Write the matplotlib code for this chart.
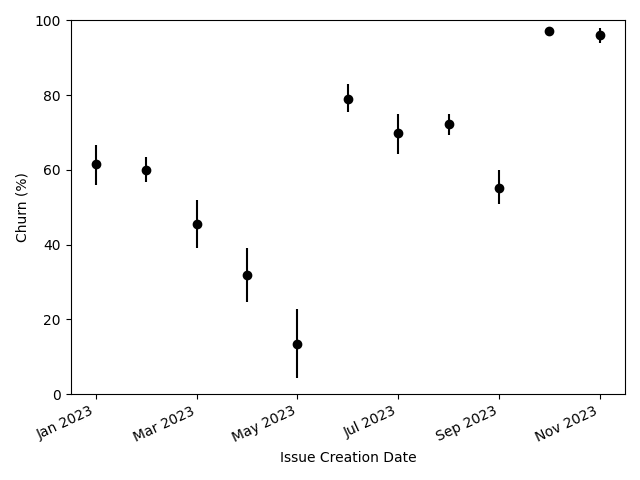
import matplotlib
matplotlib.use("Agg")
import matplotlib.pyplot as plt
import numpy as np

months = ["Jan 2023", "Feb 2023", "Mar 2023", "Apr 2023", "May 2023", "Jun 2023",
          "Jul 2023", "Aug 2023", "Sep 2023", "Oct 2023", "Nov 2023"]
churn = [61.5, 60.0, 45.5, 31.8, 13.4, 79.1, 69.8, 72.2, 55.3, 97.1, 96.0]
err_low = [5.4, 3.3, 6.5, 7.2, 9.1, 3.7, 5.4, 2.9, 4.5, 0.0, 1.9]
err_high = [5.3, 3.4, 6.4, 7.2, 9.3, 3.8, 5.3, 2.9, 4.6, 0.0, 2.1]

x = np.arange(len(months))
fig, ax = plt.subplots(figsize=(6.4, 4.8), dpi=100)
ax.errorbar(x, churn, yerr=[err_low, err_high], fmt="o", color="black")
ax.set_ylim(0, 100)
ax.set_xlabel("Issue Creation Date")
ax.set_ylabel("Churn (%)")
ax.set_xticks(x[::2])
ax.set_xticklabels(months[::2], rotation=25, ha="right")
fig.tight_layout()
fig.savefig("out.png")
